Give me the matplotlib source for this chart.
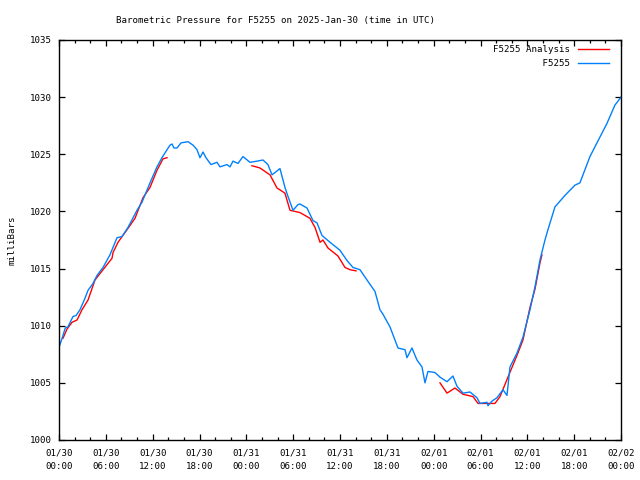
import matplotlib.pyplot as plt
import numpy as np
from datetime import datetime, timedelta

# Zeit in Stunden ab 2025-01-30 00:00 UTC
station_h = [0.0, 0.4, 0.8, 1.15, 1.5, 1.79, 2.2, 2.69, 3.33, 3.72, 4.36, 4.87, 5.64,
             6.53, 7.43, 8.07, 8.84, 9.99, 10.63, 11.66, 12.55, 13.19, 13.84, 14.22,
             14.48, 14.73, 15.12, 15.63, 16.53, 17.17, 17.68, 18.06, 18.45, 18.83,
             19.47, 20.24, 20.63, 21.52, 21.91, 22.29, 22.93, 23.57, 24.47, 25.37,
             26.13, 26.77, 27.29, 28.31, 28.95, 29.34, 29.98, 30.62, 30.87, 31.77,
             32.54, 33.05, 33.69, 34.72, 36.0, 36.9, 37.66, 38.56, 39.46, 40.48,
             41.12, 41.51, 42.4, 43.43, 44.33, 44.58, 45.22, 45.86, 46.5, 46.89,
             47.27, 48.17, 48.81, 49.71, 50.47, 50.99, 51.76, 52.65, 53.55, 53.93,
             54.83, 54.96, 55.47, 56.11, 56.88, 57.39, 57.78, 58.67, 59.44, 60.34,
             60.98, 61.62, 62.26, 62.64, 63.54, 64.82, 66.1, 66.74, 68.02, 68.92,
             70.2, 71.22, 72.0]
station_p = [1008.1, 1008.9, 1009.8, 1009.9, 1010.4, 1010.8, 1010.9, 1011.4, 1012.4,
             1013.1, 1013.7, 1014.4, 1015.1, 1016.2, 1017.7, 1017.8, 1018.6, 1020.1,
             1020.8, 1022.5, 1023.9, 1024.7, 1025.4, 1025.8, 1025.9, 1025.55, 1025.55,
             1026.0, 1026.1, 1025.8, 1025.4, 1024.7, 1025.2, 1024.7, 1024.1, 1024.3,
             1023.9, 1024.1, 1023.9, 1024.4, 1024.2, 1024.8, 1024.3, 1024.4, 1024.5,
             1024.1, 1023.2, 1023.75, 1022.1, 1021.3, 1020.1, 1020.6, 1020.65, 1020.3,
             1019.2, 1019.0, 1017.9, 1017.3, 1016.6, 1015.7, 1015.1, 1014.9, 1014.0,
             1013.0, 1011.4, 1011.0, 1009.9, 1008.05, 1007.9, 1007.2, 1008.05, 1007.0,
             1006.4, 1005.0, 1006.0, 1005.9, 1005.5, 1005.1, 1005.6, 1004.7, 1004.1,
             1004.2, 1003.7, 1003.2, 1003.3, 1003.0, 1003.4, 1003.7, 1004.4, 1003.9,
             1006.4, 1007.6, 1009.0, 1011.4, 1013.4, 1015.75, 1017.5, 1018.4, 1020.4,
             1021.4, 1022.3, 1022.5, 1024.8, 1026.0, 1027.7, 1029.3, 1030.0]

# Analyse: drei Abschnitte, Lücken als NaN
analysis_h = [0.51, 1.02, 1.67, 2.31, 2.95, 3.72, 4.61, 5.64, 6.79, 6.92, 7.56, 8.71,
              9.74, 10.76, 11.66, 12.55, 13.32, 13.84, 19.0,
              24.72, 25.75, 27.03, 27.93, 28.95, 29.59, 30.87, 32.15, 32.8, 33.44,
              33.82, 34.46, 35.74, 36.64, 37.28, 38.05, 43.0,
              48.81, 49.71, 50.73, 51.76, 53.04, 53.68, 55.85, 56.5, 57.52, 58.67,
              59.44, 60.34, 60.98, 61.62, 61.87]
analysis_p = [1008.9, 1009.7, 1010.3, 1010.5, 1011.4, 1012.25, 1014.0, 1014.9, 1015.9,
              1016.4, 1017.3, 1018.4, 1019.4, 1021.2, 1022.1, 1023.6, 1024.6, 1024.7,
              np.nan,
              1024.0, 1023.8, 1023.2, 1022.05, 1021.6, 1020.1, 1019.9, 1019.4, 1018.6,
              1017.3, 1017.5, 1016.8, 1016.1, 1015.1, 1014.9, 1014.8, np.nan,
              1005.0, 1004.1, 1004.55, 1004.0, 1003.8, 1003.2, 1003.2, 1003.8, 1005.5,
              1007.4, 1008.75, 1011.6, 1013.2, 1015.5, 1016.2]

start = datetime(2025, 1, 30)
xticks = list(range(0, 73, 6))
xlabels = [(start + timedelta(hours=h)).strftime("%m/%d\n%H:%M") for h in xticks]
yticks = list(range(1000, 1036, 5))

plt.rcParams['font.family'] = 'DejaVu Sans Mono'
fs = 6.6

fig = plt.figure(figsize=(6.4, 4.8), dpi=100)
ax = fig.add_axes([59/640, 40/480, 562/640, 400/480])

ax.plot(analysis_h, analysis_p, color="#ff0000", linewidth=1.0,
        label="F5255 Analysis")
ax.plot(station_h, station_p, color="#0080ff", linewidth=1.0,
        label="F5255".rjust(len("F5255 Analysis")))

ax.set_xlim(0, 72)
ax.set_ylim(1000, 1035)
ax.set_xticks(xticks)
ax.set_xticklabels(xlabels, fontsize=fs)
for lab in ax.get_xticklabels():
    lab.set_linespacing(1.6)
ax.set_xticks(range(0, 73, 2), minor=True)
ax.set_yticks(yticks)
ax.set_yticklabels([str(v) for v in yticks], fontsize=fs)
ax.tick_params(which="both", direction="in", top=True, right=True, width=0.9)
ax.tick_params(which="major", length=4.5, pad=5)
ax.tick_params(which="minor", length=2.5)
ax.tick_params(axis="x", pad=6)
for s in ax.spines.values():
    s.set_linewidth(1.0)

ax.set_ylabel("milliBars", fontsize=fs, labelpad=10)
fig.text(276/640, 1 - 20/480, "Barometric Pressure for F5255 on 2025-Jan-30 (time in UTC)",
         ha="center", va="center", fontsize=fs)

ax.legend(loc="upper right", frameon=False, markerfirst=False,
          handlelength=3.3, handletextpad=0.9, labelspacing=0.5,
          borderaxespad=0.4, borderpad=0.2,
          bbox_to_anchor=(1 - 7/562, 1),
          prop={'family': 'DejaVu Sans Mono', 'size': fs})

fig.savefig("out.png", dpi=100)
